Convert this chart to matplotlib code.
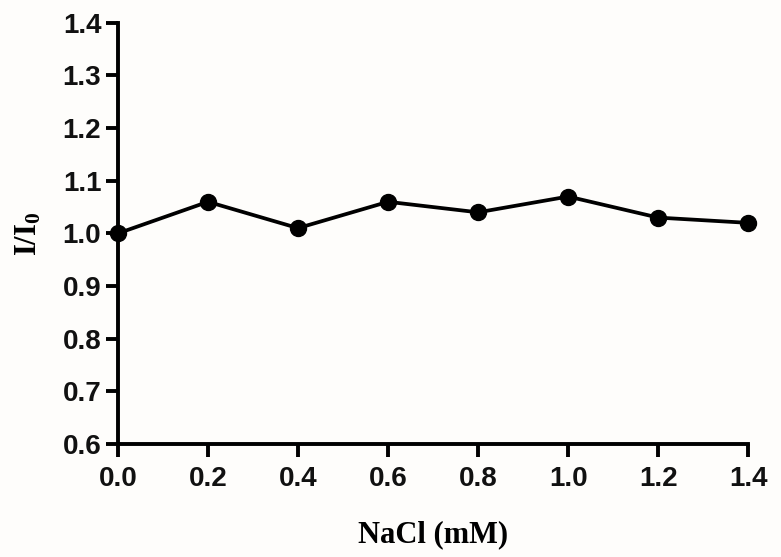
import matplotlib
matplotlib.use("Agg")
import matplotlib.pyplot as plt

nacl = [0.0, 0.2, 0.4, 0.6, 0.8, 1.0, 1.2, 1.4]
ratio = [1.00, 1.06, 1.01, 1.06, 1.04, 1.07, 1.03, 1.02]
xticks = [0.0, 0.2, 0.4, 0.6, 0.8, 1.0, 1.2, 1.4]
yticks = [0.6, 0.7, 0.8, 0.9, 1.0, 1.1, 1.2, 1.3, 1.4]

plt.rcParams['mathtext.fontset'] = 'custom'
plt.rcParams['mathtext.rm'] = 'Liberation Serif:bold'
plt.rcParams['mathtext.it'] = 'Liberation Serif:bold'
plt.rcParams['mathtext.bf'] = 'Liberation Serif:bold'

fig = plt.figure(figsize=(7.81, 5.57), dpi=100, facecolor='#fefdfb')
ax = fig.add_axes([0.151, 0.203, 0.807, 0.756])
ax.set_facecolor('#fefdfb')

ax.plot(nacl, ratio, color='black', lw=2.7, marker='o', ms=11.5, clip_on=False, zorder=5)

ax.set_xlim(0, 1.4)
ax.set_ylim(0.6, 1.4)
ax.set_xticks(xticks)
ax.set_yticks(yticks)
ax.set_xticklabels([f"{v:.1f}" for v in xticks])
ax.set_yticklabels([f"{v:.1f}" for v in yticks])

for s in ['top', 'right']:
    ax.spines[s].set_visible(False)
for s in ['left', 'bottom']:
    ax.spines[s].set_linewidth(2.8)

ax.tick_params(axis='both', direction='out', width=2.8, length=9, colors='black')
ax.tick_params(axis='x', pad=7)
ax.tick_params(axis='y', pad=3)
for lab in ax.get_xticklabels() + ax.get_yticklabels():
    lab.set_fontfamily('Liberation Sans')
    lab.set_fontweight('bold')
    lab.set_fontsize(20)
    lab.set_color('#111111')

ax.set_xlabel('NaCl (mM)', fontfamily='Liberation Serif', fontweight='bold', fontsize=22, labelpad=20)
ax.set_ylabel('I/I$_0$', fontfamily='Liberation Serif', fontweight='bold', fontsize=22, labelpad=14)

fig.savefig('out.png', dpi=100, facecolor=fig.get_facecolor())
